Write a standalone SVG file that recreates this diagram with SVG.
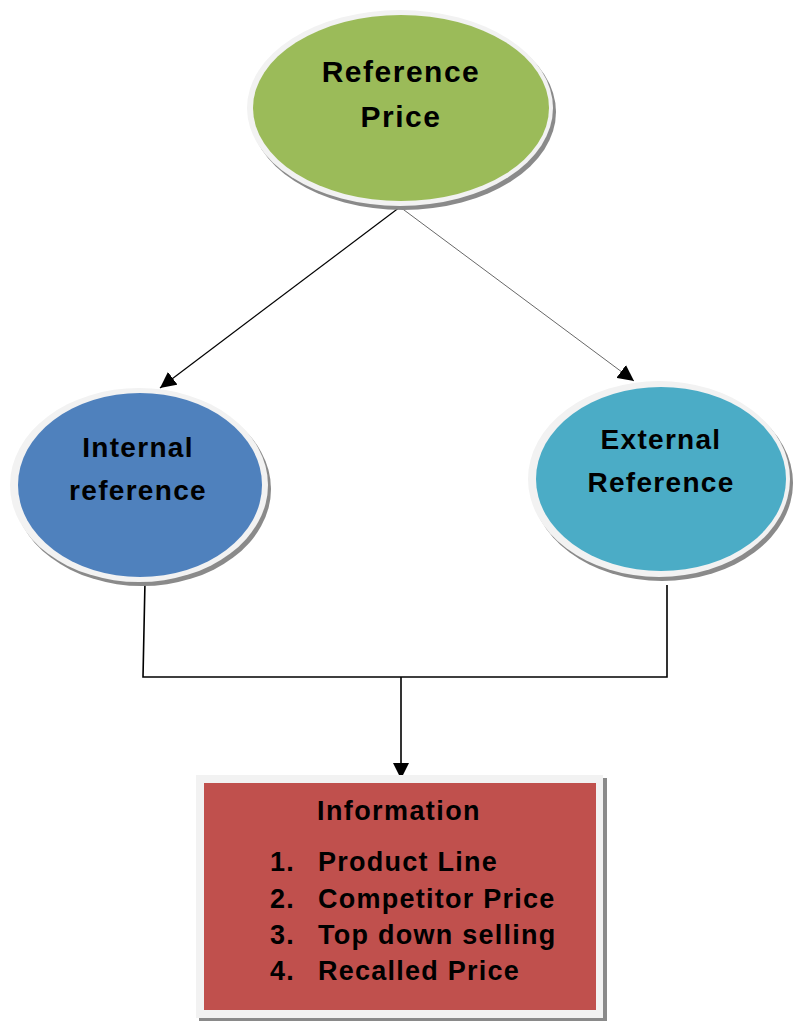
<svg xmlns="http://www.w3.org/2000/svg" width="793" height="1021" viewBox="0 0 793 1021">
  <defs>
    <marker id="arrow" viewBox="0 0 10 10" refX="10" refY="5" markerWidth="16" markerHeight="16" markerUnits="userSpaceOnUse" orient="auto">
      <path d="M0,0 L10,5 L0,10 Z" fill="#000"/>
    </marker>
    <style>
      .shadow { fill: #8a8a8a; }
      .rim { fill: #f2f2f2; }
      .label { font-family: "Liberation Sans", Arial, sans-serif; font-weight: bold; fill: #000; text-anchor: middle; }
      .item { font-family: "Liberation Sans", Arial, sans-serif; font-weight: bold; fill: #000; font-size: 27px; }
      .line { stroke: #000; fill: none; }
    </style>
  </defs>
  <rect width="793" height="1021" fill="#fff"/>

  <!-- connectors -->
  <g id="connectors">
    <line class="line" x1="400" y1="207" x2="160" y2="388" stroke-width="1.2" marker-end="url(#arrow)"/>
    <line class="line" x1="400" y1="207" x2="634" y2="381" stroke-width="0.6" marker-end="url(#arrow)"/>
    <polyline class="line" points="145,581 143,677 667,677 667,585" stroke-width="1.6"/>
    <line class="line" x1="401" y1="677" x2="401" y2="779" stroke-width="1.6" marker-end="url(#arrow)"/>
  </g>

  <!-- top node -->
  <g id="reference-price">
    <ellipse class="shadow" cx="403" cy="112" rx="153" ry="98"/>
    <ellipse class="rim" cx="400" cy="108" rx="153" ry="98"/>
    <ellipse cx="401" cy="108" rx="148" ry="93" fill="#9bbb59"/>
    <text class="label" x="401" y="82" font-size="30" letter-spacing="1.5">Reference</text>
    <text class="label" x="401" y="127" font-size="30" letter-spacing="1.5">Price</text>
  </g>

  <!-- left node -->
  <g id="internal-reference">
    <ellipse class="shadow" cx="142" cy="489" rx="129" ry="97"/>
    <ellipse class="rim" cx="139" cy="485" rx="129" ry="97"/>
    <ellipse cx="140" cy="485" rx="122" ry="92" fill="#4f81bd"/>
    <text class="label" x="138" y="457" font-size="28" letter-spacing="1.3">Internal</text>
    <text class="label" x="138" y="500" font-size="28" letter-spacing="1.3">reference</text>
  </g>

  <!-- right node -->
  <g id="external-reference">
    <ellipse class="shadow" cx="662" cy="483" rx="131" ry="98"/>
    <ellipse class="rim" cx="659" cy="479" rx="131" ry="98"/>
    <ellipse cx="661" cy="479" rx="125" ry="92" fill="#4bacc6"/>
    <text class="label" x="661" y="449" font-size="28" letter-spacing="1.3">External</text>
    <text class="label" x="661" y="492" font-size="28" letter-spacing="1.3">Reference</text>
  </g>

  <!-- bottom node -->
  <g id="information">
    <rect x="199" y="778" width="408" height="243" fill="#8a8a8a"/>
    <rect x="196" y="775" width="407" height="243" fill="#f2f2f2"/>
    <rect x="204" y="783" width="392" height="227" fill="#c0504d"/>
    <text class="label" x="399" y="820" font-size="27" letter-spacing="1.4">Information</text>
    <g class="item" letter-spacing="1.25">
      <text x="270" y="871">1.</text>
      <text x="318" y="871">Product Line</text>
      <text x="270" y="908">2.</text>
      <text x="318" y="908">Competitor Price</text>
      <text x="270" y="944">3.</text>
      <text x="318" y="944">Top down selling</text>
      <text x="270" y="980">4.</text>
      <text x="318" y="980">Recalled Price</text>
    </g>
  </g>
</svg>
